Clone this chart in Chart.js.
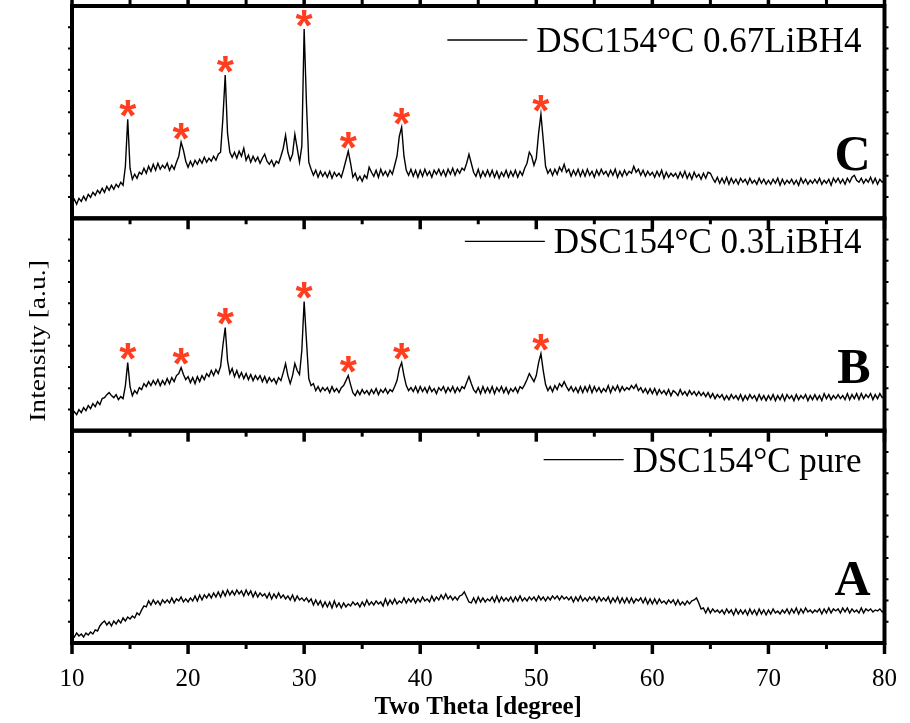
<!DOCTYPE html>
<html>
<head>
<meta charset="utf-8">
<script src="https://cdn.jsdelivr.net/npm/chart.js@4"></script>
<style>
  html, body { margin: 0; padding: 0; background: #fff; }
</style>
</head>
<body>
<canvas id="xrdChart" width="910" height="723"></canvas>
<script>
// 2-theta sampling grid of the scans (degrees)
const thetaStart = 10;
const thetaStep = 0.2;

const sampleLabels = ['DSC154°C 0.67LiBH4', 'DSC154°C 0.3LiBH4', 'DSC154°C pure'];
const panelLetters = ['C', 'B', 'A'];
const twoThetaTicks = [10, 20, 30, 40, 50, 60, 70, 80];
// reflections marked with a red asterisk in C and B
const starredPeaks = [14.8, 19.4, 23.2, 30.0, 33.8, 38.4, 50.4];

// intensities (a.u.), one value per 0.2 degree from 10 to 80
const intensityC = [
  15,19,14,20,17,22,18,24,21,26,
  23,28,25,30,26,32,28,33,29,34,
  31,36,33,52,99,50,39,44,40,46,
  44,50,45,52,47,54,48,55,49,53,
  50,55,48,53,49,56,62,76,68,57,
  51,57,52,58,54,59,55,61,56,60,
  57,62,58,64,66,100,143,85,66,61,
  66,60,67,62,70,58,63,56,62,57,
  61,55,60,64,57,54,58,52,57,55,
  62,70,83,66,58,64,84,70,56,72,
  189,115,56,49,43,48,41,47,42,46,
  41,47,40,46,42,45,41,49,58,67,
  55,41,45,38,42,37,43,40,51,46,
  42,48,41,49,43,47,42,48,44,53,
  62,82,91,62,48,43,49,42,48,41,
  48,42,49,43,47,41,48,44,49,43,
  48,42,49,44,50,43,49,45,50,48,
  55,64,55,46,42,49,41,47,42,48,
  42,48,41,47,40,46,42,48,41,47,
  42,48,41,47,43,50,55,66,62,53,
  60,85,104,78,52,45,49,43,49,44,
  51,47,54,46,49,42,48,43,49,42,
  48,42,49,43,47,41,48,43,49,44,
  47,42,48,43,49,41,47,42,48,43,
  47,45,52,46,49,43,48,42,47,43,
  46,41,47,42,48,40,46,41,45,42,
  45,40,46,41,47,40,45,39,46,41,
  44,39,45,40,46,45,40,36,41,35,
  40,35,41,34,40,35,39,34,40,36,
  39,34,40,35,38,34,40,35,39,34,
  38,34,39,35,40,33,39,34,38,35,
  39,34,38,33,40,35,39,34,38,35,
  39,35,40,34,38,35,39,33,40,36,
  40,35,39,34,40,36,41,43,38,36,
  40,35,39,36,41,35,40,34,39,36,
  38
];

const intensityB = [
  15,19,16,21,18,23,20,25,22,27,
  24,29,26,32,33,36,38,35,33,36,
  31,34,32,45,68,44,35,40,37,43,
  41,47,44,49,45,50,46,51,45,50,
  46,52,47,53,49,55,57,63,56,51,
  54,48,53,47,54,49,55,51,57,54,
  60,55,61,57,64,85,103,70,57,62,
  54,60,53,58,52,57,51,56,50,55,
  51,55,49,54,48,53,49,52,47,53,
  50,58,67,55,47,55,67,60,56,80,
  129,90,52,45,47,40,44,39,43,40,
  43,38,44,39,42,38,43,45,50,55,
  46,38,35,40,36,41,37,40,36,41,
  37,42,36,41,38,42,37,41,39,44,
  50,62,68,55,45,40,43,39,44,38,
  44,39,43,38,44,39,42,37,43,40,
  44,38,43,39,44,38,43,39,44,42,
  48,54,47,41,38,43,37,44,38,43,
  38,44,37,43,39,44,38,43,37,42,
  39,43,38,44,42,46,51,57,53,49,
  55,68,77,60,46,40,44,39,45,41,
  47,44,49,44,40,44,39,43,38,44,
  38,44,39,45,38,44,39,43,38,42,
  39,45,38,44,40,45,39,44,40,43,
  41,45,42,46,40,43,38,42,37,42,
  37,42,36,41,37,40,36,41,35,40,
  38,35,41,36,39,35,40,36,39,35,
  39,35,38,34,38,33,37,32,36,33,
  36,31,35,31,36,32,35,31,36,30,
  35,31,36,32,35,30,36,31,35,30,
  35,31,36,30,35,31,36,30,36,32,
  35,30,36,31,35,32,36,30,35,31,
  36,31,35,30,37,32,36,31,35,32,
  36,32,35,31,37,31,36,32,37,31,
  37,32,36,33,37,31,36,32,37,33,
  34
];

const intensityA = [
  9,6,10,7,9,6,10,8,11,9,
  13,12,17,20,22,18,21,17,22,19,
  23,20,25,22,26,24,27,25,30,28,
  33,37,36,42,38,43,39,42,38,43,
  40,43,40,45,40,44,42,46,41,44,
  41,45,42,47,42,48,43,48,45,49,
  45,50,46,51,46,52,47,53,48,52,
  48,53,49,52,47,53,48,52,46,51,
  46,50,47,49,45,50,44,49,45,50,
  45,48,44,47,43,48,42,47,43,45,
  42,45,41,44,38,43,38,42,36,41,
  36,41,35,42,36,40,35,40,36,39,
  37,41,38,40,36,41,37,43,38,41,
  38,42,39,41,37,44,38,43,39,44,
  39,42,40,45,40,44,41,45,40,44,
  41,46,42,44,41,47,42,46,43,48,
  44,49,44,47,43,46,43,47,48,51,
  46,41,40,45,40,46,41,45,41,44,
  42,46,41,47,41,46,42,45,42,46,
  41,46,42,47,42,45,42,46,43,46,
  42,47,43,46,42,46,43,47,44,47,
  43,47,44,46,43,46,41,46,42,47,
  42,45,42,46,43,46,41,46,42,45,
  42,46,40,45,41,46,40,45,40,45,
  40,45,40,44,42,45,40,45,39,44,
  39,44,39,44,40,42,39,43,40,43,
  38,43,38,41,38,42,39,42,43,45,
  40,34,35,30,35,30,34,31,33,30,
  33,29,34,30,33,28,34,29,33,29,
  33,28,34,29,33,28,34,29,33,28,
  33,29,34,30,32,29,33,30,34,29,
  34,30,35,29,34,30,35,31,33,30,
  33,31,34,29,34,30,35,30,34,32,
  34,30,35,31,35,30,34,31,33,30,
  35,30,34,32,34,31,33,32,34,31,
  33
];

const serif = "'Liberation Serif', 'Times New Roman', serif";
const panelIds = ['yC', 'yB', 'yA'];
const legendBaseline = [46, 35, 41];

function toPoints(values) {
  return values.map((v, i) => ({ x: +(thetaStart + i * thetaStep).toFixed(1), y: v }));
}

function panelAxis(weight) {
  return {
    type: 'linear',
    position: 'left',
    stack: 'panels',
    stackWeight: 1,
    weight: weight,
    min: 0,
    max: 212,
    ticks: { display: false },
    grid: { display: false },
    border: { display: false },
    afterFit: s => { s.width = 72; }
  };
}

// frames, ticks, legends, letters and asterisks drawn on top of the traces
const xrdDecor = {
  id: 'xrdDecor',
  afterDatasetsDraw(chart) {
    const { ctx, chartArea, scales } = chart;
    const { left, right } = chartArea;
    const xs = scales.x;
    ctx.save();
    ctx.strokeStyle = '#000';
    ctx.fillStyle = '#000';

    panelIds.forEach((id, p) => {
      const ys = scales[id];
      for (let v = xs.min; v <= xs.max; v += 5) {
        const px = xs.getPixelForValue(v);
        const major = v % 10 === 0;
        const len = major ? 11 : 6;
        ctx.lineWidth = major ? 3.5 : 3;
        ctx.beginPath();
        ctx.moveTo(px, ys.bottom);
        ctx.lineTo(px, ys.bottom + len);
        if (p === 0) {
          ctx.moveTo(px, ys.top);
          ctx.lineTo(px, ys.top - len);
        }
        ctx.stroke();
      }
      ctx.lineWidth = 2;
      for (let k = 1; k < 10; k++) {
        const py = ys.getPixelForValue(ys.min + k * (ys.max - ys.min) / 10);
        ctx.beginPath();
        ctx.moveTo(left, py); ctx.lineTo(left - 4, py);
        ctx.moveTo(right, py); ctx.lineTo(right + 4, py);
        ctx.stroke();
      }
    });

    ctx.lineWidth = 4;
    panelIds.forEach(id => {
      const ys = scales[id];
      ctx.strokeRect(left, ys.top, right - left, ys.bottom - ys.top);
    });

    chart.data.datasets.forEach((ds, p) => {
      const ys = scales[ds.yAxisID];
      // legend entry
      ctx.font = '35px ' + serif;
      ctx.textAlign = 'right';
      ctx.textBaseline = 'alphabetic';
      const base = ys.top + legendBaseline[p];
      const tx = right - 23;
      ctx.fillText(ds.label, tx, base);
      const w = ctx.measureText(ds.label).width;
      ctx.lineWidth = 1.3;
      ctx.beginPath();
      ctx.moveTo(tx - w - 89, base - 12);
      ctx.lineTo(tx - w - 9, base - 12);
      ctx.stroke();
      // panel letter
      ctx.font = 'bold 50px ' + serif;
      ctx.fillText(panelLetters[p], right - 14, ys.bottom - 48);

      if (!ds.starred) return;
      ctx.save();
      ctx.fillStyle = '#ff3d1f';
      ctx.font = "bold 44px 'Liberation Sans', Arial, sans-serif";
      ctx.textAlign = 'center';
      const m = ctx.measureText('*');
      const dy = (m.actualBoundingBoxAscent - m.actualBoundingBoxDescent) / 2;
      starredPeaks.forEach(peak => {
        const near = ds.data.filter(pt => Math.abs(pt.x - peak) <= 0.3);
        const best = near.reduce((a, b) => (b.y > a.y ? b : a));
        const py = ys.getPixelForValue(best.y) - 11;
        ctx.fillText('*', xs.getPixelForValue(best.x), py + dy);
      });
      ctx.restore();
    });

    // y axis title
    ctx.save();
    ctx.translate(45, 341);
    ctx.rotate(-Math.PI / 2);
    ctx.scale(1.2, 1);
    ctx.font = '23px ' + serif;
    ctx.textAlign = 'center';
    ctx.textBaseline = 'alphabetic';
    ctx.fillText('Intensity [a.u.]', 0, 0);
    ctx.restore();

    ctx.restore();
  }
};

const ctx = document.getElementById('xrdChart').getContext('2d');
const xrdChart = new Chart(ctx, {
  type: 'line',
  data: {
    datasets: [
      { label: sampleLabels[0], data: toPoints(intensityC), yAxisID: 'yC', starred: true, borderColor: '#000' },
      { label: sampleLabels[1], data: toPoints(intensityB), yAxisID: 'yB', starred: true, borderColor: '#000' },
      { label: sampleLabels[2], data: toPoints(intensityA), yAxisID: 'yA', starred: false, borderColor: '#000' }
    ]
  },
  options: {
    responsive: false,
    animation: false,
    devicePixelRatio: 1,
    elements: {
      point: { radius: 0 },
      line: { borderWidth: 1.4, tension: 0 }
    },
    layout: { padding: { top: 6, right: 25, left: 0, bottom: 0 } },
    plugins: {
      legend: { display: false },
      tooltip: { enabled: false }
    },
    scales: {
      x: {
        type: 'linear',
        min: 10,
        max: 80,
        afterBuildTicks: s => { s.ticks = twoThetaTicks.map(v => ({ value: v })); },
        ticks: { color: '#000', font: { family: serif, size: 25 }, padding: 13, maxRotation: 0, autoSkip: false },
        grid: { display: false },
        border: { display: false },
        title: {
          display: true,
          text: 'Two Theta [degree]',
          color: '#000',
          font: { family: serif, size: 25, weight: 'bold' },
          padding: { top: 0, bottom: 0 }
        },
        afterFit: s => { s.height = 80; }
      },
      yA: panelAxis(1),
      yB: panelAxis(2),
      yC: panelAxis(3)
    }
  },
  plugins: [xrdDecor]
});
</script>
</body>
</html>
